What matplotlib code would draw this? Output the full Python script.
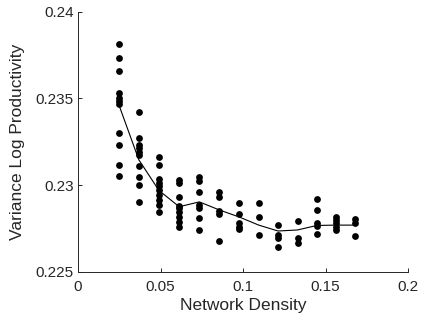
import matplotlib
matplotlib.use("Agg")
import matplotlib.pyplot as plt
import numpy as np

plt.rcParams['font.family'] = ['Liberation Sans', 'DejaVu Sans']

# density levels (one column of dots each)
density = [0.0246, 0.0368, 0.0490, 0.0613, 0.0735, 0.0857, 0.0976,
           0.1095, 0.1212, 0.1330, 0.1447, 0.1562, 0.1676]

# simulated variance of log productivity at each density
runs = [
    [0.23812, 0.23731, 0.23660, 0.23529, 0.23500, 0.23487, 0.23467, 0.23298, 0.23231, 0.23116, 0.23052],
    [0.23423, 0.23270, 0.23231, 0.23212, 0.23192, 0.23173, 0.23110, 0.23048, 0.23000, 0.22904],
    [0.23160, 0.23116, 0.23033, 0.23013, 0.22994, 0.22971, 0.22942, 0.22914, 0.22885, 0.22846],
    [0.23029, 0.23010, 0.22933, 0.22881, 0.22870, 0.22846, 0.22817, 0.22788, 0.22756],
    [0.23045, 0.23025, 0.22962, 0.22885, 0.22866, 0.22808, 0.22741],
    [0.22962, 0.22929, 0.22852, 0.22833, 0.22679],
    [0.22898, 0.22833, 0.22779, 0.22756, 0.22745],
    [0.22898, 0.22814, 0.22712],
    [0.22769, 0.22712, 0.22693, 0.22641],
    [0.22794, 0.22693, 0.22664],
    [0.22918, 0.22856, 0.22779, 0.22763, 0.22716],
    [0.22817, 0.22798, 0.22779, 0.22759, 0.22741],
    [0.22802, 0.22783, 0.22706],
]

# fitted curve
fit = [0.23466, 0.23146, 0.22969, 0.22875, 0.22903, 0.22856, 0.22816,
       0.22769, 0.22735, 0.22741, 0.22767, 0.22769, 0.22769]

fig = plt.figure(figsize=(4.22, 3.22), dpi=100)
ax = fig.add_axes([0.185, 0.156, 0.782, 0.808])

for x, ys in zip(density, runs):
    ax.scatter([x] * len(ys), ys, s=24, color="black", linewidths=0, zorder=3)

ax.plot(density, fit, color="black", linewidth=0.8, zorder=2)

ax.set_xlim(0, 0.2)
ax.set_ylim(0.225, 0.24)
ax.set_xticks([0, 0.05, 0.1, 0.15, 0.2])
ax.set_xticklabels(["0", "0.05", "0.1", "0.15", "0.2"])
ax.set_yticks([0.225, 0.23, 0.235, 0.24])
ax.set_yticklabels(["0.225", "0.23", "0.235", "0.24"])

for side in ["top", "right"]:
    ax.spines[side].set_visible(False)
for side in ["left", "bottom"]:
    ax.spines[side].set_color("#262626")
    ax.spines[side].set_linewidth(0.7)

ax.tick_params(direction="in", length=3, width=0.7, colors="#262626", labelsize=11, pad=3)
ax.tick_params(axis="x", pad=6)
ax.set_xlabel("Network Density", fontsize=12.5, color="#262626", labelpad=3)
ax.set_ylabel("Variance Log Productivity", fontsize=12.5, color="#262626", labelpad=8)

fig.savefig("out.png", dpi=100)
